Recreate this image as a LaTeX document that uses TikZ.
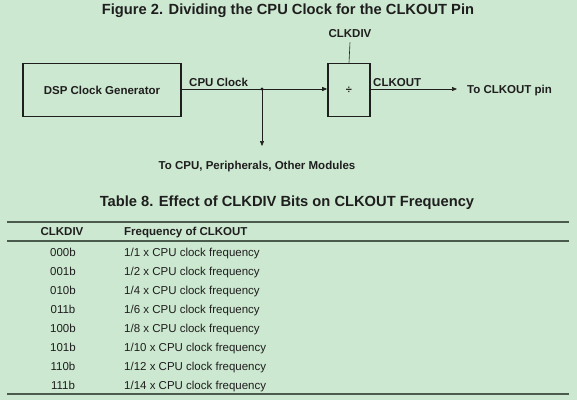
\documentclass[tikz,border=0pt]{standalone}
\usepackage{fontspec}
\setmainfont{Liberation Sans}
\usetikzlibrary{arrows.meta,positioning}
\definecolor{bgcol}{HTML}{CDE8D0}
\definecolor{inkcol}{HTML}{1E1E1E}
\definecolor{rulecol}{HTML}{4A5A4C}

\begin{document}
\begin{tikzpicture}[x=1pt,y=-1pt,>={Triangle[length=5pt,width=4pt]},
  every node/.style={font=\fontsize{11.5}{14}\selectfont\bfseries,text=inkcol,inner sep=0pt},
  blk/.style={draw=inkcol,line width=1.6pt},
  sig/.style={draw=inkcol,line width=0.6pt},
  cell/.style={font=\fontsize{11.5}{14}\selectfont,text=inkcol},
  rulel/.style={draw=rulecol,line width=1.2pt}]
  \fill[bgcol] (0,0) rectangle (577,400);
  \useasboundingbox (0,0) rectangle (577,400);
  % figure
  \node[font=\fontsize{14.7}{17}\selectfont\bfseries] (ftitle) at (288,11) {Figure 2. Dividing the CPU Clock for the CLKOUT Pin};
  \node[blk,minimum width=158pt,minimum height=53pt] (gen) at (102,90) {DSP Clock Generator};
  \node[blk,minimum width=42pt,minimum height=53pt,font=\fontsize{11}{13}\selectfont\bfseries] (div) at (349,90) {÷};
  \node (clkdiv) at (350,34) {CLKDIV};
  \coordinate (tap) at (262,89);
  \coordinate (pinend) at (457,89);
  \coordinate (downend) at (262,146);
  \draw[sig] ([yshift=-4pt]clkdiv.south) -- (div.north);
  \draw[sig] (gen.east |- tap) -- (tap);
  \draw[sig,->] (tap) -- (div.west |- tap);
  \fill[inkcol] (tap) circle (1.6pt);
  \draw[sig,->] (tap) -- (downend);
  \draw[sig,->] (div.east |- tap) -- (pinend);
  \node[anchor=south west] (cpulbl) at (189,87) {CPU Clock};
  \node[anchor=south west] (outlbl) at (373,87) {CLKOUT};
  \node[anchor=west] (pinlbl) at (467,91) {To CLKOUT pin};
  \node (modlbl) at (257,167) {To CPU, Peripherals, Other Modules};
  % table
  \node[font=\fontsize{14.7}{17}\selectfont\bfseries] (ttitle) at (287,203) {Table 8. Effect of CLKDIV Bits on CLKOUT Frequency};
  \draw[rulel] (7,222) -- (569,222);
  \draw[rulel] (7,241) -- (569,241);
  \draw[rulel] (7,394) -- (569,394);
  \node[anchor=base] (hdiv) at (62,235) {CLKDIV};
  \node[anchor=base west] (hfreq) at (124,235) {Frequency of CLKOUT};
  \foreach \code/\ratio [count=\i from 0] in {000b/1,001b/2,010b/4,011b/6,100b/8,101b/10,110b/12,111b/14} {
    \node[cell,anchor=base] (code\i) at (63,256+19.1*\i) {\code};
    \node[cell,anchor=base west] (freq\i) at (124,256+19.1*\i) {1/\ratio\ x CPU clock frequency};
  }
\end{tikzpicture}
\end{document}
